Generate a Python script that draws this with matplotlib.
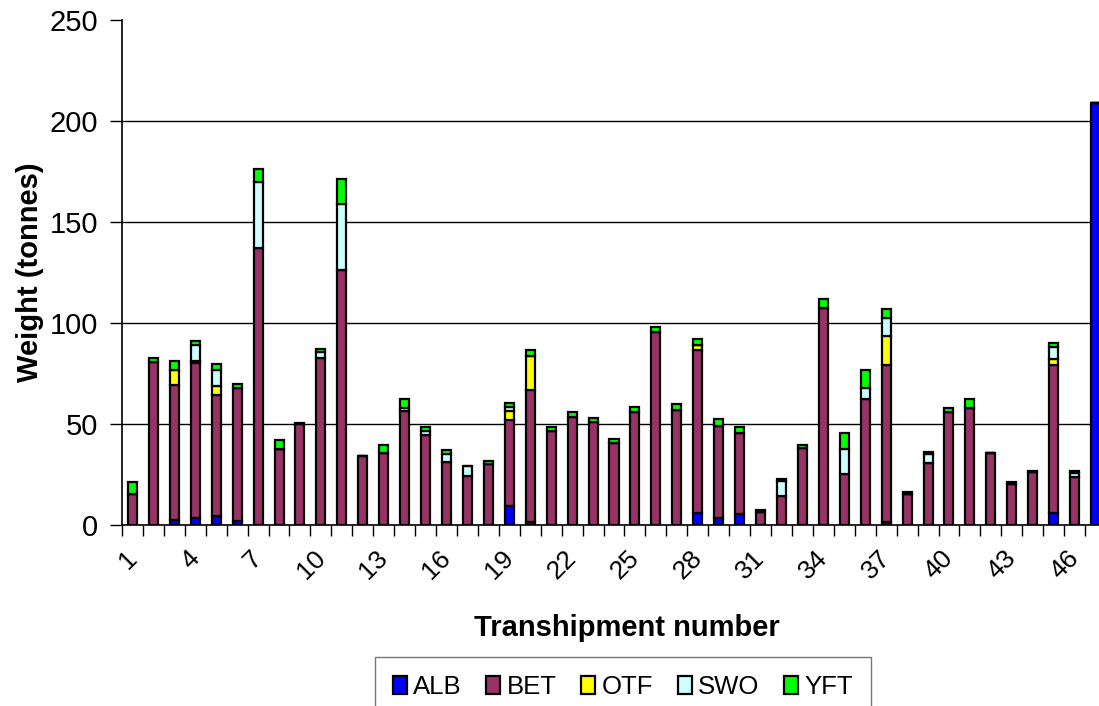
import numpy as np
import matplotlib
matplotlib.use("Agg")
import matplotlib.pyplot as plt
import matplotlib.transforms as mtransforms

# Transhipment catch by species (tonnes), transhipments 1..47
species = ["ALB", "BET", "OTF", "SWO", "YFT"]
colors = ["#0000FF", "#993366", "#FFFF00", "#CCFFFF", "#00FF00"]

alb = [0, 0, 2.5, 3.5, 4.5, 2, 0, 0, 0, 0,
       0, 0, 0, 0, 0, 0, 0, 0, 9.5, 1.5,
       0, 0, 0, 0, 0, 0, 0, 5.8, 3.3, 5.3,
       0, 0, 0, 0, 0, 0, 1.5, 0, 0, 0,
       0, 0, 0, 0, 6.1, 0, 209]
bet = [15.5, 80.5, 67, 76.5, 60, 66, 137, 37.5, 50, 82.5,
       126, 34, 35.5, 56.5, 44.5, 31.3, 24.5, 30, 42.5, 65.5,
       46.5, 53.5, 51, 40.8, 55.8, 95.7, 57, 80.8, 45.7, 40.4,
       6.5, 14.5, 38, 107.6, 25.2, 62.4, 77.7, 15.5, 30.5, 55.8,
       57.8, 35.5, 20.5, 26, 73.1, 23.6, 0]
otf = [0, 0, 7, 1.2, 4.5, 0, 0, 0, 0, 0,
       0, 0, 0, 0, 0, 0, 0, 0, 4.5, 16.5,
       0, 0, 0, 0, 0, 0, 0, 2.5, 0, 0,
       0, 0, 0, 0, 0, 0, 14.4, 0, 0, 0,
       0, 0, 0, 0, 2.8, 0, 0]
swo = [0, 0, 0, 8, 7.5, 0, 33, 0, 0, 3,
       33, 0, 0, 1.5, 2, 4, 4.5, 0, 2, 0,
       0, 0, 0, 0, 0, 0, 0, 0, 0, 0,
       0, 7.5, 0, 0, 12.3, 5.3, 8.7, 0, 4.5, 0,
       0, 0, 0, 0, 6, 2, 0]
yft = [6, 2, 4.6, 2, 3, 1.6, 6, 4.5, 0.5, 1.5,
       12.5, 0.3, 4, 4.5, 2, 2, 0.4, 1.5, 2, 3.3,
       1.8, 2.3, 2, 1.8, 2.8, 2.5, 2.7, 2.8, 3.3, 3,
       0.8, 1, 1.5, 4.3, 8.2, 9, 4.5, 1, 1.3, 2,
       4.4, 0.3, 0.6, 0.7, 2, 1.3, 0]

plt.rcParams["font.family"] = ["Liberation Sans", "DejaVu Sans"]

fig = plt.figure(figsize=(10.99, 7.06), dpi=100)
# plot area runs slightly past the right edge, like the original
ax = fig.add_axes([122 / 1099, 181 / 706, 984 / 1099, 505 / 706])

x = np.arange(len(bet))
bottom = np.zeros(len(bet))
for name, vals, c in zip(species, [alb, bet, otf, swo, yft], colors):
    vals = np.array(vals, dtype=float)
    ax.bar(x, vals, width=0.43, bottom=bottom, color=c, edgecolor="black",
           linewidth=1.6, label=name, zorder=3)
    bottom += vals

yticks = np.arange(0, 251, 50)
ax.set_xlim(-0.5, len(bet) - 0.5)
ax.set_ylim(0, 250)
ax.set_yticks(yticks)
# gridlines only between 0 and the top, none on 250
for yv in yticks[1:-1]:
    ax.axhline(yv, color="black", linewidth=1.0, zorder=0)
ax.tick_params(axis="y", labelsize=21, length=9, width=1, direction="out", pad=8)

ax.set_xticks(x[::3])
ax.set_xticklabels([str(i + 1) for i in x[::3]], rotation=45, ha="right",
                   rotation_mode="anchor", fontsize=19)
ax.set_xticks(np.arange(-0.5, len(bet), 1), minor=True)
ax.tick_params(axis="x", which="major", length=0, pad=15)
ax.tick_params(axis="x", which="minor", length=8, width=1, direction="out")
shift = mtransforms.ScaledTranslation(-8 / 100, 0, fig.dpi_scale_trans)
for lab in ax.get_xticklabels():
    lab.set_transform(lab.get_transform() + shift)

for s in ["top", "right"]:
    ax.spines[s].set_visible(False)
ax.spines["left"].set_linewidth(1.2)
ax.spines["bottom"].set_linewidth(1.2)

fig.text(30 / 1099, 1 - 272 / 706, "Weight (tonnes)", rotation=90,
         fontsize=21, fontweight="bold", ha="center", va="center")
fig.text(627 / 1099, 1 - 628 / 706, "Transhipment number",
         fontsize=21, fontweight="bold", ha="center", va="center")

leg = fig.legend(loc="upper center", bbox_to_anchor=(623 / 1099, 1 - 657 / 706),
                 ncol=5, fontsize=18.5, frameon=True, fancybox=False,
                 handlelength=0.55, handleheight=0.75, handletextpad=0.25,
                 columnspacing=0.95, borderpad=0.7, borderaxespad=0,
                 edgecolor="#555555")
leg.get_frame().set_linewidth(1.0)

fig.savefig("out.png", dpi=100)
